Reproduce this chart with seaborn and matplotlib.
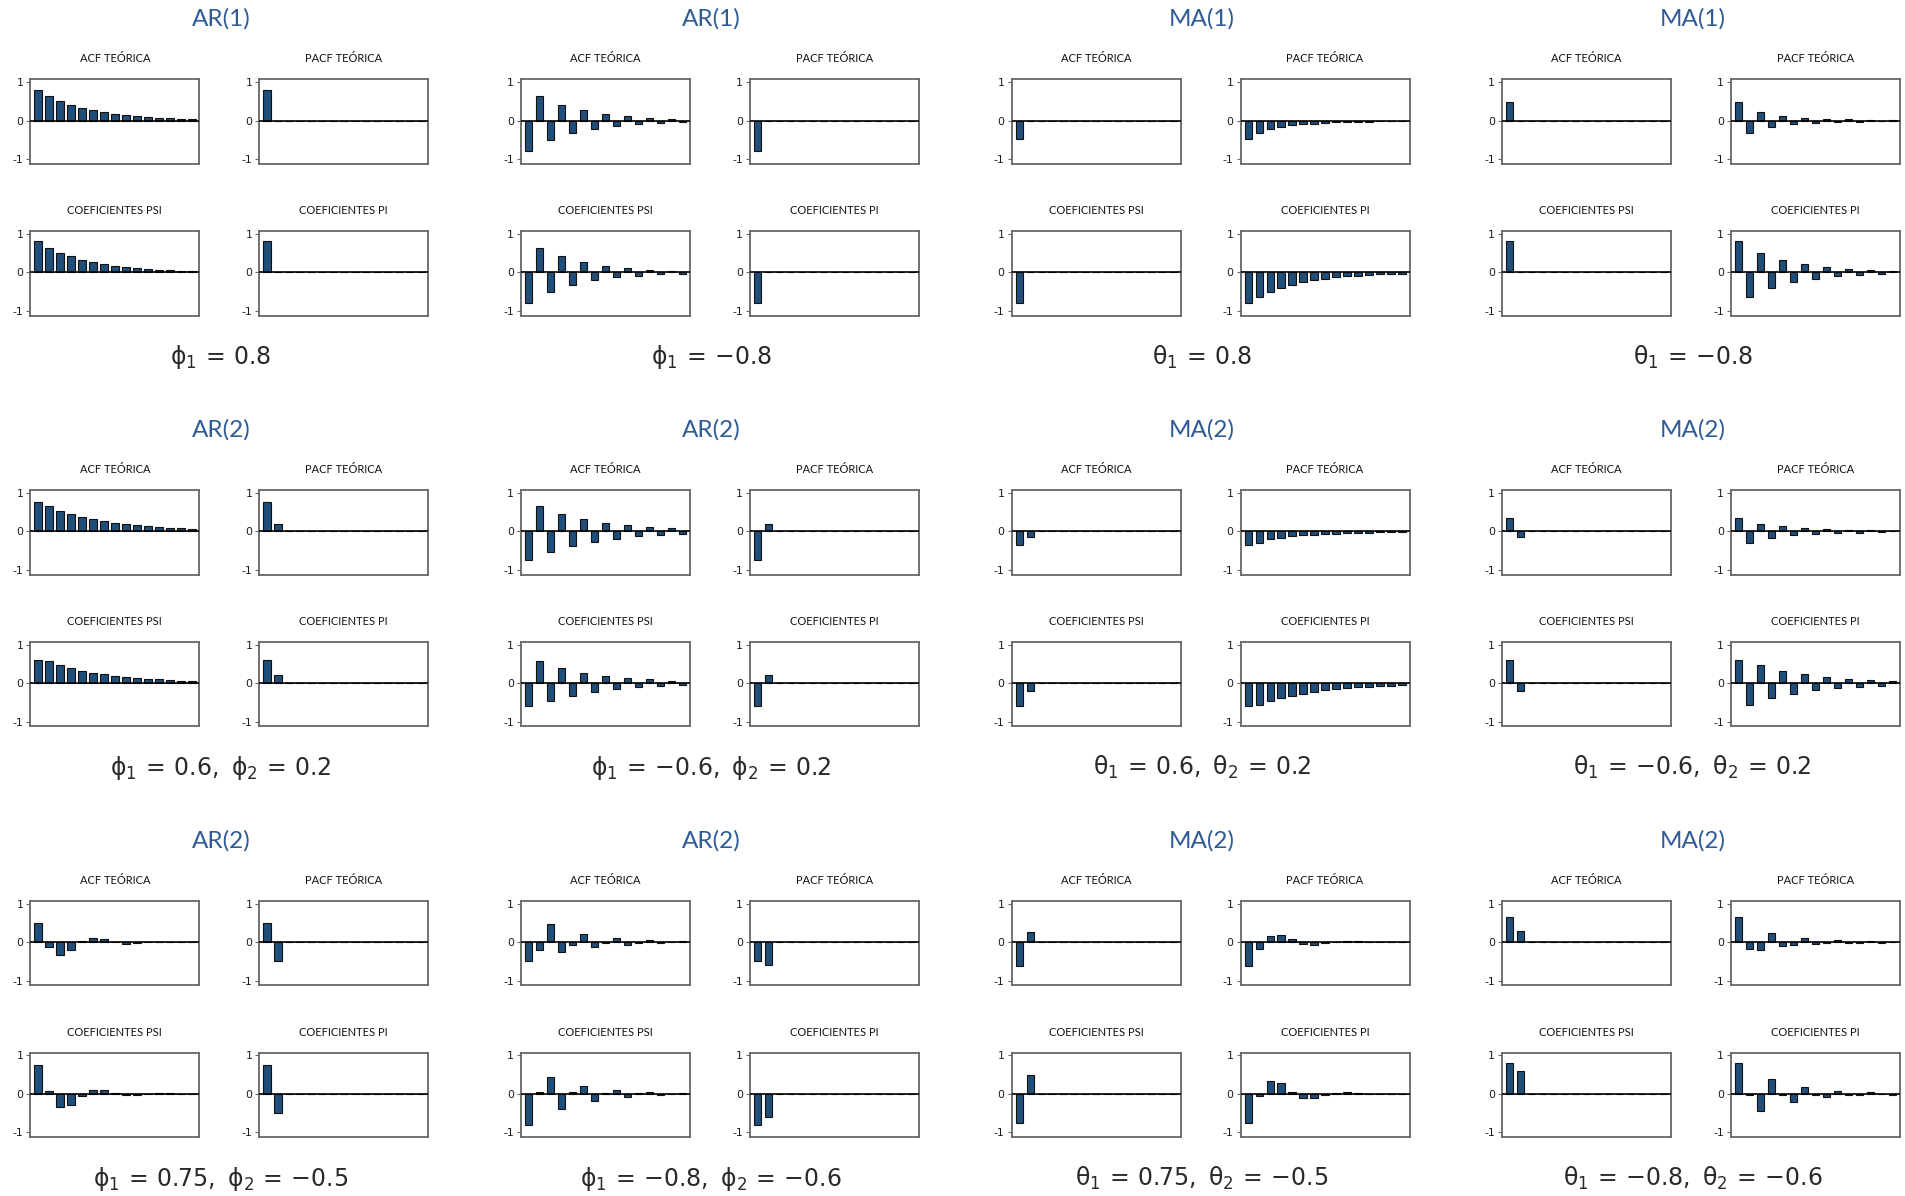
import matplotlib
matplotlib.use("Agg")
import matplotlib.pyplot as plt
import seaborn as sns
import pandas as pd

# ---------------------------------------------------------------------------
# Theoretical ACF / PACF and psi / pi weights, lags 1..15
# ---------------------------------------------------------------------------
lags = [1, 2, 3, 4, 5, 6, 7, 8, 9, 10, 11, 12, 13, 14, 15]

# AR(1), phi1 = 0.8
ar1_pos_acf = [0.8, 0.64, 0.512, 0.41, 0.328, 0.262, 0.21, 0.168, 0.134, 0.107, 0.086, 0.069, 0.055, 0.044, 0.035]
ar1_pos_pacf = [0.8, 0, 0, 0, 0, 0, 0, 0, 0, 0, 0, 0, 0, 0, 0]
ar1_pos_psi = [0.8, 0.64, 0.512, 0.41, 0.328, 0.262, 0.21, 0.168, 0.134, 0.107, 0.086, 0.069, 0.055, 0.044, 0.035]
ar1_pos_pi = [0.8, 0, 0, 0, 0, 0, 0, 0, 0, 0, 0, 0, 0, 0, 0]

# AR(1), phi1 = -0.8
ar1_neg_acf = [-0.8, 0.64, -0.512, 0.41, -0.328, 0.262, -0.21, 0.168, -0.134, 0.107, -0.086, 0.069, -0.055, 0.044, -0.035]
ar1_neg_pacf = [-0.8, 0, 0, 0, 0, 0, 0, 0, 0, 0, 0, 0, 0, 0, 0]
ar1_neg_psi = [-0.8, 0.64, -0.512, 0.41, -0.328, 0.262, -0.21, 0.168, -0.134, 0.107, -0.086, 0.069, -0.055, 0.044, -0.035]
ar1_neg_pi = [-0.8, 0, 0, 0, 0, 0, 0, 0, 0, 0, 0, 0, 0, 0, 0]

# MA(1), theta1 = 0.8
ma1_pos_acf = [-0.488, 0, 0, 0, 0, 0, 0, 0, 0, 0, 0, 0, 0, 0, 0]
ma1_pos_pacf = [-0.488, -0.312, -0.221, -0.165, -0.127, -0.099, -0.078, -0.062, -0.049, -0.039, -0.031, -0.025, -0.02, -0.016, -0.013]
ma1_pos_psi = [-0.8, 0, 0, 0, 0, 0, 0, 0, 0, 0, 0, 0, 0, 0, 0]
ma1_pos_pi = [-0.8, -0.64, -0.512, -0.41, -0.328, -0.262, -0.21, -0.168, -0.134, -0.107, -0.086, -0.069, -0.055, -0.044, -0.035]

# MA(1), theta1 = -0.8
ma1_neg_acf = [0.488, 0, 0, 0, 0, 0, 0, 0, 0, 0, 0, 0, 0, 0, 0]
ma1_neg_pacf = [0.488, -0.312, 0.221, -0.165, 0.127, -0.099, 0.078, -0.062, 0.049, -0.039, 0.031, -0.025, 0.02, -0.016, 0.013]
ma1_neg_psi = [0.8, 0, 0, 0, 0, 0, 0, 0, 0, 0, 0, 0, 0, 0, 0]
ma1_neg_pi = [0.8, -0.64, 0.512, -0.41, 0.328, -0.262, 0.21, -0.168, 0.134, -0.107, 0.086, -0.069, 0.055, -0.044, 0.035]

# AR(2), phi1 = 0.6, phi2 = 0.2
ar2a_acf = [0.75, 0.65, 0.54, 0.454, 0.38, 0.319, 0.268, 0.224, 0.188, 0.158, 0.132, 0.111, 0.093, 0.078, 0.065]
ar2a_pacf = [0.75, 0.2, 0, 0, 0, 0, 0, 0, 0, 0, 0, 0, 0, 0, 0]
ar2a_psi = [0.6, 0.56, 0.456, 0.386, 0.323, 0.271, 0.227, 0.19, 0.16, 0.134, 0.112, 0.094, 0.079, 0.066, 0.055]
ar2a_pi = [0.6, 0.2, 0, 0, 0, 0, 0, 0, 0, 0, 0, 0, 0, 0, 0]

# AR(2), phi1 = -0.6, phi2 = 0.2
ar2b_acf = [-0.75, 0.65, -0.54, 0.454, -0.38, 0.319, -0.268, 0.224, -0.188, 0.158, -0.132, 0.111, -0.093, 0.078, -0.065]
ar2b_pacf = [-0.75, 0.2, 0, 0, 0, 0, 0, 0, 0, 0, 0, 0, 0, 0, 0]
ar2b_psi = [-0.6, 0.56, -0.456, 0.386, -0.323, 0.271, -0.227, 0.19, -0.16, 0.134, -0.112, 0.094, -0.079, 0.066, -0.055]
ar2b_pi = [-0.6, 0.2, 0, 0, 0, 0, 0, 0, 0, 0, 0, 0, 0, 0, 0]

# MA(2), theta1 = 0.6, theta2 = 0.2
ma2a_acf = [-0.343, -0.143, 0, 0, 0, 0, 0, 0, 0, 0, 0, 0, 0, 0, 0]
ma2a_pacf = [-0.343, -0.295, -0.204, -0.162, -0.128, -0.104, -0.086, -0.071, -0.059, -0.049, -0.041, -0.034, -0.028, -0.024, -0.02]
ma2a_psi = [-0.6, -0.2, 0, 0, 0, 0, 0, 0, 0, 0, 0, 0, 0, 0, 0]
ma2a_pi = [-0.6, -0.56, -0.456, -0.386, -0.323, -0.271, -0.227, -0.19, -0.16, -0.134, -0.112, -0.094, -0.079, -0.066, -0.055]

# MA(2), theta1 = -0.6, theta2 = 0.2
ma2b_acf = [0.343, -0.143, 0, 0, 0, 0, 0, 0, 0, 0, 0, 0, 0, 0, 0]
ma2b_pacf = [0.343, -0.295, 0.204, -0.162, 0.128, -0.104, 0.086, -0.071, 0.059, -0.049, 0.041, -0.034, 0.028, -0.024, 0.02]
ma2b_psi = [0.6, -0.2, 0, 0, 0, 0, 0, 0, 0, 0, 0, 0, 0, 0, 0]
ma2b_pi = [0.6, -0.56, 0.456, -0.386, 0.323, -0.271, 0.227, -0.19, 0.16, -0.134, 0.112, -0.094, 0.079, -0.066, 0.055]

# AR(2), phi1 = 0.75, phi2 = -0.5
ar2c_acf = [0.5, -0.125, -0.344, -0.195, 0.025, 0.117, 0.075, -0.002, -0.039, -0.028, -0.002, 0.013, 0.01, 0.001, -0.004]
ar2c_pacf = [0.5, -0.5, 0, 0, 0, 0, 0, 0, 0, 0, 0, 0, 0, 0, 0]
ar2c_psi = [0.75, 0.063, -0.328, -0.277, -0.044, 0.106, 0.101, 0.023, -0.033, -0.037, -0.011, 0.01, 0.013, 0.005, -0.003]
ar2c_pi = [0.75, -0.5, 0, 0, 0, 0, 0, 0, 0, 0, 0, 0, 0, 0, 0]

# AR(2), phi1 = -0.8, phi2 = -0.6
ar2d_acf = [-0.5, -0.2, 0.46, -0.248, -0.078, 0.211, -0.122, -0.029, 0.096, -0.06, -0.01, 0.044, -0.029, -0.003, 0.02]
ar2d_pacf = [-0.5, -0.6, 0, 0, 0, 0, 0, 0, 0, 0, 0, 0, 0, 0, 0]
ar2d_psi = [-0.8, 0.04, 0.448, -0.382, 0.037, 0.2, -0.182, 0.026, 0.089, -0.086, 0.016, 0.039, -0.041, 0.009, 0.017]
ar2d_pi = [-0.8, -0.6, 0, 0, 0, 0, 0, 0, 0, 0, 0, 0, 0, 0, 0]

# MA(2), theta1 = 0.75, theta2 = -0.5
ma2c_acf = [-0.621, 0.276, 0, 0, 0, 0, 0, 0, 0, 0, 0, 0, 0, 0, 0]
ma2c_pacf = [-0.621, -0.178, 0.153, 0.195, 0.073, -0.042, -0.067, -0.03, 0.008, 0.022, 0.018, 0.002, -0.008, -0.007, -0.001]
ma2c_psi = [-0.75, 0.5, 0, 0, 0, 0, 0, 0, 0, 0, 0, 0, 0, 0, 0]
ma2c_pi = [-0.75, -0.063, 0.328, 0.277, 0.044, -0.106, -0.101, -0.023, 0.033, 0.037, 0.011, -0.01, -0.013, -0.005, 0.003]

# MA(2), theta1 = -0.8, theta2 = -0.6
ma2d_acf = [0.64, 0.3, 0, 0, 0, 0, 0, 0, 0, 0, 0, 0, 0, 0, 0]
ma2d_pacf = [0.64, -0.186, -0.191, 0.245, -0.09, -0.072, 0.109, -0.045, -0.033, 0.05, -0.021, -0.015, 0.023, -0.01, -0.007]
ma2d_psi = [0.8, 0.6, 0, 0, 0, 0, 0, 0, 0, 0, 0, 0, 0, 0, 0]
ma2d_pi = [0.8, -0.04, -0.448, 0.382, -0.037, -0.2, 0.182, -0.026, -0.089, 0.086, -0.016, -0.039, 0.041, -0.009, -0.017]

model_titles = [
    ["AR(1)", "AR(1)", "MA(1)", "MA(1)"],
    ["AR(2)", "AR(2)", "MA(2)", "MA(2)"],
    ["AR(2)", "AR(2)", "MA(2)", "MA(2)"],
]
P1, P2 = r"\mathrm{\phi}_1\,", r"\mathrm{\phi}_2\,"
T1, T2 = r"\mathrm{\theta}_1\,", r"\mathrm{\theta}_2\,"
EQ = r"=\,"
model_params = [
    [f"${P1}{EQ}0.8$", f"${P1}{EQ}{{-}}0.8$", f"${T1}{EQ}0.8$", f"${T1}{EQ}{{-}}0.8$"],
    [f"${P1}{EQ}0.6,\\ {P2}{EQ}0.2$", f"${P1}{EQ}{{-}}0.6,\\ {P2}{EQ}0.2$",
     f"${T1}{EQ}0.6,\\ {T2}{EQ}0.2$", f"${T1}{EQ}{{-}}0.6,\\ {T2}{EQ}0.2$"],
    [f"${P1}{EQ}0.75,\\ {P2}{EQ}{{-}}0.5$", f"${P1}{EQ}{{-}}0.8,\\ {P2}{EQ}{{-}}0.6$",
     f"${T1}{EQ}0.75,\\ {T2}{EQ}{{-}}0.5$", f"${T1}{EQ}{{-}}0.8,\\ {T2}{EQ}{{-}}0.6$"],
]
model_series = [
    [(ar1_pos_acf, ar1_pos_pacf, ar1_pos_psi, ar1_pos_pi),
     (ar1_neg_acf, ar1_neg_pacf, ar1_neg_psi, ar1_neg_pi),
     (ma1_pos_acf, ma1_pos_pacf, ma1_pos_psi, ma1_pos_pi),
     (ma1_neg_acf, ma1_neg_pacf, ma1_neg_psi, ma1_neg_pi)],
    [(ar2a_acf, ar2a_pacf, ar2a_psi, ar2a_pi),
     (ar2b_acf, ar2b_pacf, ar2b_psi, ar2b_pi),
     (ma2a_acf, ma2a_pacf, ma2a_psi, ma2a_pi),
     (ma2b_acf, ma2b_pacf, ma2b_psi, ma2b_pi)],
    [(ar2c_acf, ar2c_pacf, ar2c_psi, ar2c_pi),
     (ar2d_acf, ar2d_pacf, ar2d_psi, ar2d_pi),
     (ma2c_acf, ma2c_pacf, ma2c_psi, ma2c_pi),
     (ma2d_acf, ma2d_pacf, ma2d_psi, ma2d_pi)],
]
panel_titles = ["ACF TEÓRICA", "PACF TEÓRICA", "COEFICIENTES PSI", "COEFICIENTES PI"]

# ---------------------------------------------------------------------------
# Styling
# ---------------------------------------------------------------------------
sns.set_theme(style="white")
plt.rcParams["font.family"] = ["Lato", "DejaVu Sans"]
plt.rcParams["mathtext.fontset"] = "dejavusans"

BAR_FILL = "#1F4E79"
BAR_EDGE = "#111111"
TITLE_BLUE = "#2F5B97"
FRAME = "#666666"

W, H = 1905, 1196
fig = plt.figure(figsize=(W / 100, H / 100), dpi=100)
fig.patch.set_facecolor("white")

BOX_W, BOX_H = 169.0, 84.5
GROUP_DX, ROW_DY = 490.6, 410.8
FIRST_LEFT, FIRST_TOP = 30.3, 79.3
PAIR_DX, PAIR_DY = 229.0, 151.7


def draw_panel(left, top, values, label):
    ax = fig.add_axes([left / W, 1 - (top + BOX_H) / H, BOX_W / W, BOX_H / H])
    frame = pd.DataFrame({"lag": lags, "valor": values})
    sns.barplot(data=frame, x="lag", y="valor", ax=ax, color=BAR_FILL,
                saturation=1, width=0.67, edgecolor=BAR_EDGE, linewidth=0.8,
                errorbar=None)
    ax.axhline(0, color="black", lw=1.2, zorder=3)
    ax.set_xlim(-0.7, 14.67)
    ax.set_ylim(-1.12, 1.07)
    ax.set_yticks([-1, 0, 1])
    ax.set_yticklabels(["-1", "0", "1"], family="DejaVu Sans")
    ax.set_xticks([])
    ax.set_xlabel("")
    ax.set_ylabel("")
    ax.tick_params(axis="y", left=True, length=3, width=0.8, color=FRAME,
                   pad=2, labelsize=7.8, labelcolor="#1a1a1a")
    for sp in ax.spines.values():
        sp.set_visible(True)
        sp.set_color(FRAME)
        sp.set_linewidth(1.3)
    fig.text((left + BOX_W / 2) / W, 1 - (top - 20.5) / H, label,
             ha="center", va="center", fontsize=8, color="#111111")


for r in range(3):
    for g in range(4):
        acf_left = FIRST_LEFT + GROUP_DX * g
        upper_top = FIRST_TOP + ROW_DY * r
        spots = [(acf_left, upper_top), (acf_left + PAIR_DX, upper_top),
                 (acf_left, upper_top + PAIR_DY), (acf_left + PAIR_DX, upper_top + PAIR_DY)]
        for (lx, ty), vals, lab in zip(spots, model_series[r][g], panel_titles):
            draw_panel(lx, ty, vals, lab)
        cx = acf_left + (PAIR_DX + BOX_W) / 2 - 8.5
        fig.text(cx / W, 1 - (19 + ROW_DY * r) / H, model_titles[r][g],
                 ha="center", va="center", fontsize=17.5, color=TITLE_BLUE)
        fig.text(cx / W, 1 - (357 + ROW_DY * r) / H, model_params[r][g],
                 ha="center", va="center", fontsize=17, color="#2a2a2a")

fig.savefig("out.png", dpi=100, facecolor="white")
